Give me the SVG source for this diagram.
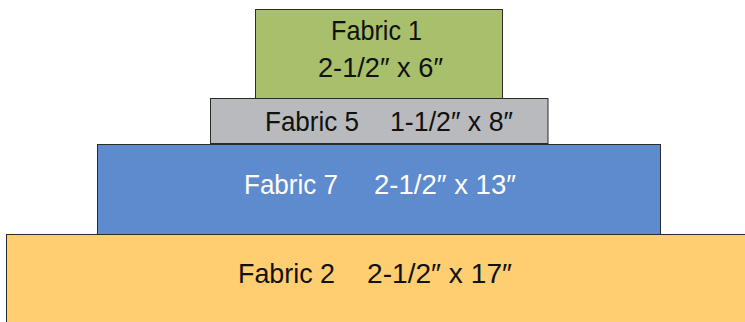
<svg xmlns="http://www.w3.org/2000/svg" width="745" height="322" viewBox="0 0 745 322">
<style>
.box{stroke:#2b2b2b;stroke-width:1}
.t{font-family:"Liberation Sans",Arial,sans-serif;font-size:28.5px;fill:#111}
.w{fill:#ffffff}
</style>
<rect width="745" height="322" fill="#ffffff"/>
<g id="fabric2">
<rect class="box" x="6.5" y="234.5" width="745" height="100" fill="#fece71"/>
<text class="t" x="238" y="283" textLength="97" lengthAdjust="spacingAndGlyphs">Fabric 2</text>
<text class="t" x="367" y="283" textLength="145" lengthAdjust="spacingAndGlyphs">2-1/2″ x 17″</text>
</g>
<g id="fabric7">
<rect class="box" x="97.5" y="144.5" width="563" height="90" fill="#5e8bce"/>
<text class="t w" x="244" y="194" textLength="94" lengthAdjust="spacingAndGlyphs">Fabric 7</text>
<text class="t w" x="374" y="194" textLength="142" lengthAdjust="spacingAndGlyphs">2-1/2″ x 13″</text>
</g>
<g id="fabric5">
<rect class="box" x="210.5" y="98.5" width="337.5" height="45" fill="#b8babd"/>
<text class="t" x="265" y="131" textLength="94" lengthAdjust="spacingAndGlyphs">Fabric 5</text>
<text class="t" x="390" y="131" textLength="123" lengthAdjust="spacingAndGlyphs">1-1/2″ x 8″</text>
</g>
<g id="fabric1">
<rect class="box" x="255.5" y="9.5" width="247" height="89" fill="#a8bf6b"/>
<text class="t" x="331" y="40" textLength="91" lengthAdjust="spacingAndGlyphs">Fabric 1</text>
<text class="t" x="318" y="77" textLength="125" lengthAdjust="spacingAndGlyphs">2-1/2″ x 6″</text>
</g>
<g id="connectors"></g>
</svg>
